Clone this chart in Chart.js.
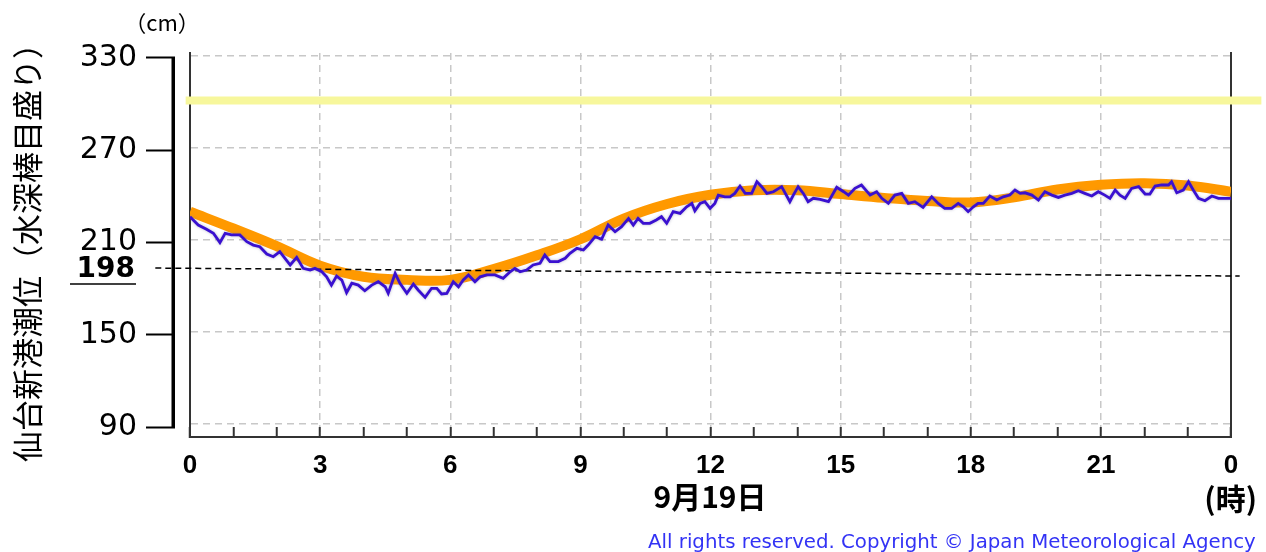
<!DOCTYPE html>
<html>
<head>
<meta charset="utf-8">
<script src="https://cdn.jsdelivr.net/npm/chart.js"></script>
<style>
  html, body { margin: 0; padding: 0; background: #fff; }
  #wrap { width: 1266px; height: 552px; }
</style>
</head>
<body>
<div id="wrap"><canvas id="tideChart" width="1266" height="552"></canvas></div>
<script>
// hours of the day (0..24) and level ticks (cm)
const hourTicks = [0,1,2,3,4,5,6,7,8,9,10,11,12,13,14,15,16,17,18,19,20,21,22,23,24];
const levelTicks = [90, 150, 210, 270, 330];

// astronomical tide (orange), hourly
const astroHours = [0,1,2,3,4,5,6,7,8,9,10,11,12,13,14,15,16,17,18,19,20,21,22,23,24];
const astroLevel = [228.5,217.5,206,193.3,186,184,184,191,200,210.5,224,233.5,239.5,242.5,242.5,240,237.5,235.5,234.5,237.8,243,246,247,245.5,241.5];

// observed tide (blue)
const obsHours = [
  0.00,0.19,0.38,0.54,0.69,0.81,0.96,1.15,1.31,1.46,
  1.61,1.77,1.92,2.07,2.19,2.31,2.46,2.61,2.77,2.88,
  3.04,3.15,3.26,3.38,3.50,3.61,3.73,3.88,4.03,4.19,
  4.34,4.50,4.57,4.73,4.84,5.00,5.15,5.26,5.42,5.57,
  5.69,5.80,5.92,6.07,6.19,6.30,6.42,6.57,6.69,6.84,
  7.03,7.22,7.38,7.49,7.61,7.76,7.91,8.07,8.18,8.30,
  8.49,8.65,8.76,8.92,9.07,9.18,9.34,9.49,9.64,9.80,
  9.95,10.11,10.22,10.33,10.45,10.60,10.75,10.87,10.99,11.14,
  11.30,11.45,11.57,11.64,11.76,11.87,11.99,12.10,12.18,12.33,
  12.45,12.56,12.68,12.80,12.95,13.07,13.18,13.30,13.45,13.64,
  13.83,13.91,14.02,14.14,14.25,14.37,14.53,14.72,14.91,15.07,
  15.18,15.33,15.48,15.68,15.83,15.95,16.10,16.25,16.41,16.56,
  16.71,16.90,17.10,17.25,17.40,17.56,17.71,17.83,17.94,18.06,
  18.17,18.29,18.44,18.60,18.75,18.90,19.02,19.14,19.25,19.41,
  19.56,19.71,19.87,20.02,20.17,20.33,20.48,20.63,20.79,20.94,
  21.09,21.21,21.33,21.44,21.56,21.71,21.87,22.02,22.13,22.25,
  22.40,22.56,22.63,22.75,22.90,23.02,23.13,23.25,23.40,23.56,
  23.71,23.87,24.00
];
const obsLevel = [
  225.2,219.8,217.0,214.4,208.3,214.4,213.3,213.3,208.9,206.7,
  205.6,200.9,199.1,202.4,198.1,193.7,198.7,191.5,190.4,191.5,
  189.3,186.0,180.6,186.5,183.9,175.6,181.8,180.6,176.9,180.6,
  182.8,179.5,175.2,188.2,181.8,175.2,181.3,177.4,172.6,178.5,
  178.5,174.8,175.2,182.8,179.5,183.9,187.2,182.8,186.0,187.2,
  187.2,185.0,189.3,191.5,189.3,190.4,193.7,194.8,200.2,195.9,
  195.9,198.1,201.3,204.6,203.5,206.7,212.2,210.5,219.8,215.4,
  218.7,224.1,219.8,224.1,220.9,220.9,223.1,225.2,220.9,228.5,
  227.4,231.7,233.9,229.0,233.9,235.0,230.7,233.9,239.3,238.2,
  238.2,240.4,245.2,240.4,240.4,248.0,244.8,240.4,241.5,244.8,
  235.0,239.3,244.8,240.4,235.0,237.2,236.5,235.0,244.4,241.5,
  239.3,243.7,245.9,239.3,241.5,237.2,233.9,239.3,240.4,233.9,
  235.0,231.3,238.2,233.9,230.7,230.7,233.9,231.7,228.5,231.7,
  233.9,233.9,238.7,236.1,238.2,239.3,242.6,240.4,240.8,239.3,
  236.1,241.5,239.3,237.8,239.3,240.4,242.1,240.4,238.7,241.5,
  239.3,237.2,242.6,239.3,237.2,243.7,244.8,240.0,240.0,245.2,
  245.9,245.9,248.0,240.8,242.6,248.0,242.6,237.2,235.6,238.7,
  237.2,237.2,237.2
];

// warning level (yellow) and datum line (dashed)
const warnHours = [-0.1, 24.7];
const warnLevel = [301, 301];
const refHours = [-0.8, 24.2];
const refLevel = [191.7, 186.5];
const refLabel = '198';

const toPoints = (xs, ys) => xs.map((x, i) => ({ x: x, y: ys[i] }));

const decorations = {
  id: 'decorations',
  beforeDatasetDraw(chart, args) {
    if (args.index === 0) {
      chart.ctx.save();
      chart.ctx.shadowColor = 'rgba(120,120,160,0.55)';
      chart.ctx.shadowBlur = 3;
    }
  },
  afterDatasetDraw(chart, args) {
    if (args.index === 0) chart.ctx.restore();
  },
  afterDraw(chart) {
    const { ctx, scales: { y, y2 } } = chart;
    ctx.save();
    // thick gauge bar on the left
    ctx.strokeStyle = '#000';
    ctx.lineWidth = 3.5;
    ctx.beginPath();
    ctx.moveTo(y2.right - 1.75, y2.getPixelForValue(330) - 1);
    ctx.lineTo(y2.right - 1.75, y2.getPixelForValue(90) + 1);
    ctx.stroke();

    // 198 label with underline
    const ry = y.getPixelForValue(refLevel[0]);
    ctx.fillStyle = '#000';
    ctx.font = 'bold 28px "DejaVu Sans"';
    ctx.textAlign = 'right';
    ctx.textBaseline = 'middle';
    ctx.fillText(refLabel, 135, ry + 2);
    ctx.lineWidth = 1.5;
    ctx.beginPath();
    ctx.moveTo(70, ry + 16);
    ctx.lineTo(136, ry + 16);
    ctx.stroke();

    // unit
    ctx.textAlign = 'center';
    ctx.font = '22px "Noto Sans CJK JP"';
    ctx.fillText('（cm）', 162, 23);

    // date and hour unit
    ctx.font = 'bold 30px "Noto Sans CJK JP"';
    ctx.fillText('9月19日', 710, 497);
    ctx.textAlign = 'right';
    ctx.fillText('(時)', 1257, 499);

    // copyright
    const note = 'All rights reserved. Copyright © Japan Meteorological Agency';
    ctx.font = '16px "DejaVu Sans"';
    const w = ctx.measureText(note).width;
    const size = 16 * 608 / w;
    ctx.font = size.toFixed(2) + 'px "DejaVu Sans"';
    ctx.fillStyle = '#3333f5';
    ctx.textAlign = 'left';
    ctx.fillText(note, 648, 543);
    ctx.restore();
  }
};

new Chart(document.getElementById('tideChart'), {
  type: 'line',
  data: {
    datasets: [
      {
        label: '観測潮位',
        data: toPoints(obsHours, obsLevel),
        borderColor: '#3a10d0',
        borderWidth: 2.8,
        pointRadius: 0,
        tension: 0,
        yAxisID: 'y',
        order: 1
      },
      {
        label: '基準面',
        data: toPoints(refHours, refLevel),
        borderColor: '#000',
        borderWidth: 1.5,
        borderDash: [6, 4],
        pointRadius: 0,
        clip: false,
        yAxisID: 'y',
        order: 2
      },
      {
        label: '天文潮位',
        data: toPoints(astroHours, astroLevel),
        borderColor: '#ff9900',
        borderWidth: 10,
        pointRadius: 0,
        tension: 0.4,
        yAxisID: 'y',
        order: 3
      },
      {
        label: '警報基準',
        data: toPoints(warnHours, warnLevel),
        borderColor: '#f7f79c',
        borderWidth: 8,
        pointRadius: 0,
        clip: false,
        yAxisID: 'y',
        order: 4
      }
    ]
  },
  options: {
    responsive: false,
    animation: false,
    devicePixelRatio: 1,
    layout: { padding: { top: 53, right: 0, bottom: 0, left: 0 } },
    plugins: { legend: { display: false }, tooltip: { enabled: false } },
    scales: {
      x: {
        type: 'linear',
        min: 0,
        max: 24,
        afterBuildTicks: s => { s.ticks = hourTicks.map(v => ({ value: v })); },
        afterFit: s => { s.height = 115; },
        ticks: {
          autoSkip: false,
          maxRotation: 0,
          padding: 23,
          color: '#000',
          font: { family: '"Liberation Sans"', size: 26, weight: 'bold' },
          callback: v => (v % 3 === 0 ? String(v % 24) : '')
        },
        grid: {
          color: c => (c.tick && c.tick.value % 3 === 0 ? '#c8c8c8' : 'rgba(0,0,0,0)'),
          lineWidth: 1.5,
          drawTicks: true,
          tickLength: -10,
          tickColor: '#333',
          tickWidth: 2,
          tickBorderDash: []
        },
        border: { display: true, color: '#333', width: 2, dash: [7, 5] }
      },
      y: {
        type: 'linear',
        position: 'left',
        weight: 0,
        min: 81.5,
        max: 332,
        afterBuildTicks: s => { s.ticks = levelTicks.map(v => ({ value: v })); },
        afterFit: s => { s.width = 15; },
        ticks: { display: false },
        grid: { color: '#c8c8c8', lineWidth: 1.5, drawTicks: false },
        border: { display: true, color: '#333', width: 2, dash: [7, 5] }
      },
      y2: {
        type: 'linear',
        position: 'left',
        weight: 1,
        min: 83.5,
        max: 333.25,
        afterBuildTicks: s => { s.ticks = levelTicks.map(v => ({ value: v })); },
        afterFit: s => { s.width = 175; },
        ticks: { color: '#000', padding: 9, font: { family: '"DejaVu Sans"', size: 30 } },
        grid: {
          drawOnChartArea: false,
          drawTicks: true,
          tickLength: 29,
          color: '#000',
          tickColor: '#000',
          tickWidth: 2
        },
        border: { display: false },
        title: {
          display: true,
          text: '仙台新港潮位（水深棒目盛り）',
          color: '#000',
          font: { family: '"Noto Sans CJK JP"', size: 31, lineHeight: 1 },
          padding: { top: 12, bottom: 0 }
        }
      },
      yR: {
        type: 'linear',
        position: 'right',
        min: 81.5,
        max: 332,
        afterFit: s => { s.width = 35; },
        ticks: { display: false },
        grid: { display: false },
        border: { display: true, color: '#333', width: 2 }
      }
    }
  },
  plugins: [decorations]
});
</script>
</body>
</html>
